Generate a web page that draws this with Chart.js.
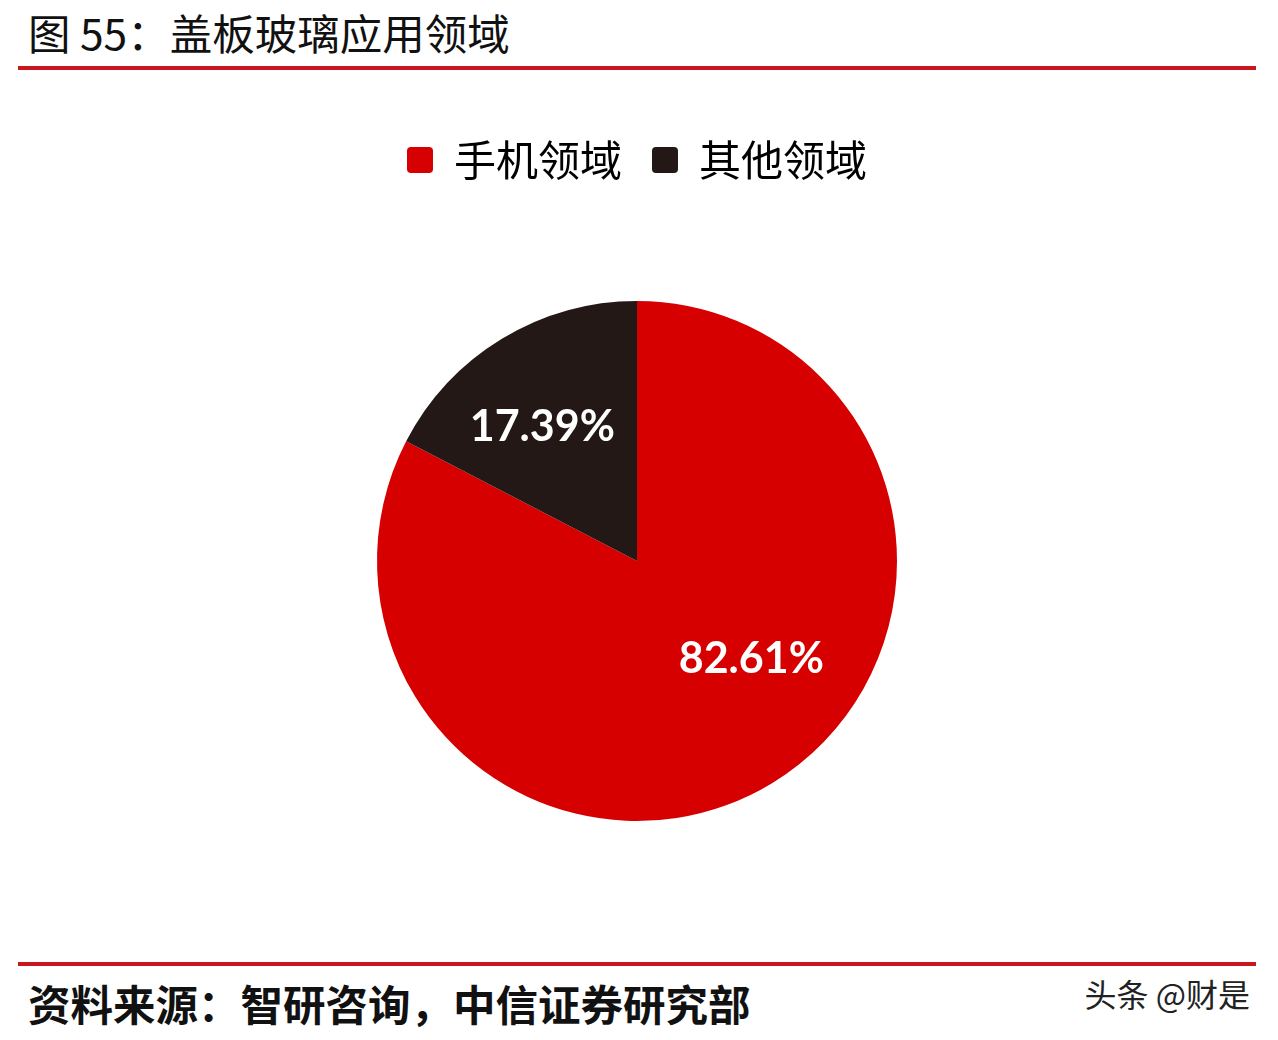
<!DOCTYPE html>
<html lang="zh-CN">
<head>
  <meta charset="UTF-8" />
  <title>盖板玻璃应用领域</title>
  <script src="https://cdn.jsdelivr.net/npm/chart.js"></script>
  <style>
    body {
      margin: 0;
      width: 1278px;
      height: 1040px;
      background: #ffffff;
      font-family: "Noto Sans CJK SC", "Noto Sans", sans-serif;
      position: relative;
      overflow: hidden;
    }
    .title {
      position: absolute;
      left: 28px;
      top: 11px;
      font-size: 42.5px;
      line-height: 1;
      color: #111;
      white-space: nowrap;
    }
    .rule {
      position: absolute;
      left: 18px;
      width: 1238px;
      height: 4px;
      background: #c8171e;
    }
    .source {
      position: absolute;
      left: 28px;
      top: 982px;
      font-size: 42.5px;
      line-height: 1;
      font-weight: 600;
      color: #111;
      white-space: nowrap;
    }
    .mark {
      position: absolute;
      right: 28px;
      top: 977px;
      font-size: 32px;
      line-height: 1;
      color: #222;
      white-space: nowrap;
    }
    #chartBox {
      position: absolute;
      left: 0;
      top: 109px;
      width: 1278px;
      height: 822px;
    }
  </style>
</head>
<body>
  <div class="title">图 55：盖板玻璃应用领域</div>
  <div class="rule" style="top: 66px;"></div>

  <div id="chartBox"><canvas id="pie"></canvas></div>

  <div class="rule" style="top: 962px;"></div>
  <div class="source">资料来源：智研咨询，中信证券研究部</div>
  <div class="mark">头条 @财是</div>

  <script>
    const categories = ["手机领域", "其他领域"];
    const shares = [82.61, 17.39];
    const sliceColors = ["#d60000", "#231815"];

    // puts the percentage text inside each slice
    const sliceLabels = {
      id: "sliceLabels",
      afterDatasetsDraw(chart, args, opts) {
        const ctx = chart.ctx;
        const arcs = chart.getDatasetMeta(0).data;
        ctx.save();
        ctx.fillStyle = "#ffffff";
        ctx.font = "bold 43px Lato, 'Open Sans', sans-serif";
        ctx.textAlign = "center";
        ctx.textBaseline = "middle";
        arcs.forEach((arc, i) => {
          const p = arc.getProps(["x", "y", "startAngle", "endAngle", "outerRadius"], true);
          const place = opts.place[i];
          const a = (p.startAngle + p.endAngle) / 2 + place.shift * Math.PI / 180;
          const r = p.outerRadius * place.frac;
          ctx.fillText(shares[i].toFixed(2) + "%", p.x + Math.cos(a) * r, p.y + Math.sin(a) * r);
        });
        ctx.restore();
      }
    };

    new Chart(document.getElementById("pie"), {
      type: "pie",
      data: {
        labels: categories,
        datasets: [{
          data: shares,
          backgroundColor: sliceColors,
          borderWidth: 0,
          radius: 260
        }]
      },
      options: {
        responsive: true,
        maintainAspectRatio: false,
        animation: false,
        layout: { padding: { right: 4 } },
        plugins: {
          legend: {
            position: "top",
            labels: {
              color: "#000",
              font: { family: "'Noto Sans CJK SC', sans-serif", size: 42 },
              boxWidth: 26,
              boxHeight: 26,
              useBorderRadius: true,
              borderRadius: 4,
              padding: 30
            }
          },
          tooltip: { enabled: false },
          sliceLabels: {
            place: [{ shift: -18, frac: 0.58 }, { shift: -4, frac: 0.63 }]
          }
        }
      },
      plugins: [sliceLabels]
    });
  </script>
</body>
</html>
